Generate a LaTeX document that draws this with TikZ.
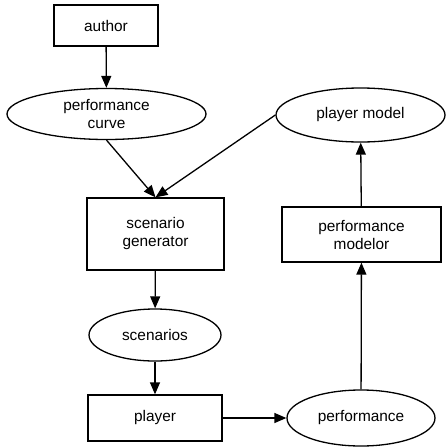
\documentclass[tikz,border=0pt]{standalone}
\usepackage{fontspec}
\setmainfont{Liberation Sans}
\usetikzlibrary{shapes.geometric,arrows.meta}
\begin{document}
\begin{tikzpicture}[x=1pt,y=-1pt,
  every node/.style={font=\fontsize{15.4}{18}\selectfont, align=center, inner sep=0pt, line width=1.3pt},
  boxnode/.style={draw, rectangle},
  ellnode/.style={draw, ellipse},
  conn/.style={line width=1.3pt, -{Triangle[length=12pt,width=10pt]}}]
\useasboundingbox (0,0) rectangle (446,448);
\node[boxnode, minimum width=104pt, minimum height=41pt] (author) at (106,25.5) {author};
\node[ellnode, minimum width=199pt, minimum height=51pt] (pc) at (106.5,114) {performance\\curve};
\node[ellnode, minimum width=169pt, minimum height=54pt] (pm) at (360.5,115) {player model};
\node[boxnode, minimum width=137pt, minimum height=72pt] (sg) at (155.5,234) {scenario\\generator};
\node[boxnode, minimum width=159pt, minimum height=55pt] (mod) at (361.5,234.5) {performance\\modelor};
\node[ellnode, minimum width=132pt, minimum height=52pt] (sc) at (155,335) {scenarios};
\node[boxnode, minimum width=134pt, minimum height=46pt] (pl) at (155,418) {player};
\node[ellnode, minimum width=148pt, minimum height=56pt] (perf) at (361,418) {performance};
\draw[conn] (author) -- (pc);
\draw[conn] (pc.south) -- (sg.north);
\draw[conn] (pm.west) -- (sg.north);
\draw[conn] (sg) -- (sc);
\draw[conn] (sc) -- (pl);
\draw[conn] (pl) -- (perf);
\draw[conn] (perf) -- (mod);
\draw[conn] (mod) -- (pm);
\end{tikzpicture}
\end{document}
